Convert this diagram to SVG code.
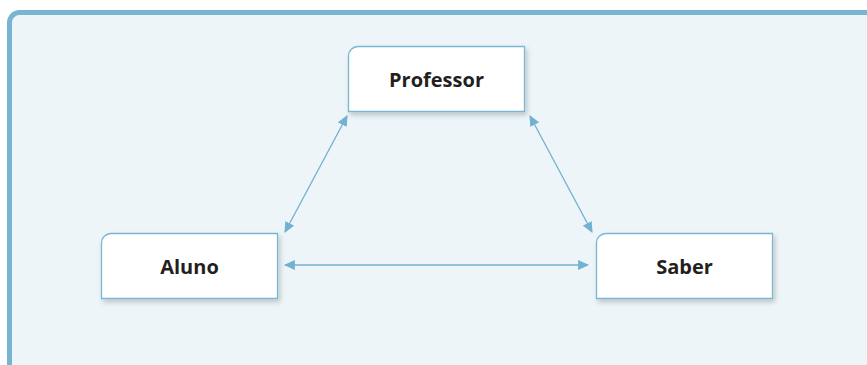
<svg xmlns="http://www.w3.org/2000/svg" width="867" height="365" viewBox="0 0 867 365">
<defs>
<style>
.node{fill:#fff;stroke:#7ab6d2;stroke-width:1.3}
.lbl{font-family:"Open Sans","Liberation Sans",sans-serif;font-weight:bold;font-size:20px;fill:#231f20;text-anchor:middle}
.conn{stroke:#72b1cf;stroke-width:1.3;fill:none;marker-start:url(#ah);marker-end:url(#ah)}
</style>
<marker id="ah" viewBox="0 0 10 10" refX="9" refY="5" markerWidth="11" markerHeight="11" markerUnits="userSpaceOnUse" orient="auto-start-reverse">
<path d="M0,0.5 L10,5 L0,9.5 z" fill="#72b1cf"/>
</marker>
<filter id="sh" x="-10%" y="-10%" width="130%" height="140%">
<feDropShadow dx="2" dy="3" stdDeviation="2.5" flood-color="#000" flood-opacity="0.2"/>
</filter>
</defs>
<rect x="9.5" y="12.5" width="900" height="400" rx="10" fill="#edf5f9" stroke="#78b5d1" stroke-width="5"/>
<g id="connectors">
<line class="conn" x1="285" y1="265" x2="588" y2="265"/>
<line class="conn" x1="285" y1="232" x2="347" y2="116"/>
<line class="conn" x1="530" y1="116" x2="592" y2="232"/>
</g>
<g id="professor">
<path class="node" filter="url(#sh)" d="M358,46.5 H524.5 V111.5 H348.5 V56 A9.5,9.5 0 0 1 358,46.5 z"/>
<text class="lbl" x="436.5" y="87">Professor</text>
</g>
<g id="aluno">
<path class="node" filter="url(#sh)" d="M111,233.5 H277.5 V298.5 H101.5 V243 A9.5,9.5 0 0 1 111,233.5 z"/>
<text class="lbl" x="189.5" y="274">Aluno</text>
</g>
<g id="saber">
<path class="node" filter="url(#sh)" d="M606,233.5 H772.5 V298.5 H596.5 V243 A9.5,9.5 0 0 1 606,233.5 z"/>
<text class="lbl" x="684.5" y="274">Saber</text>
</g>
</svg>
